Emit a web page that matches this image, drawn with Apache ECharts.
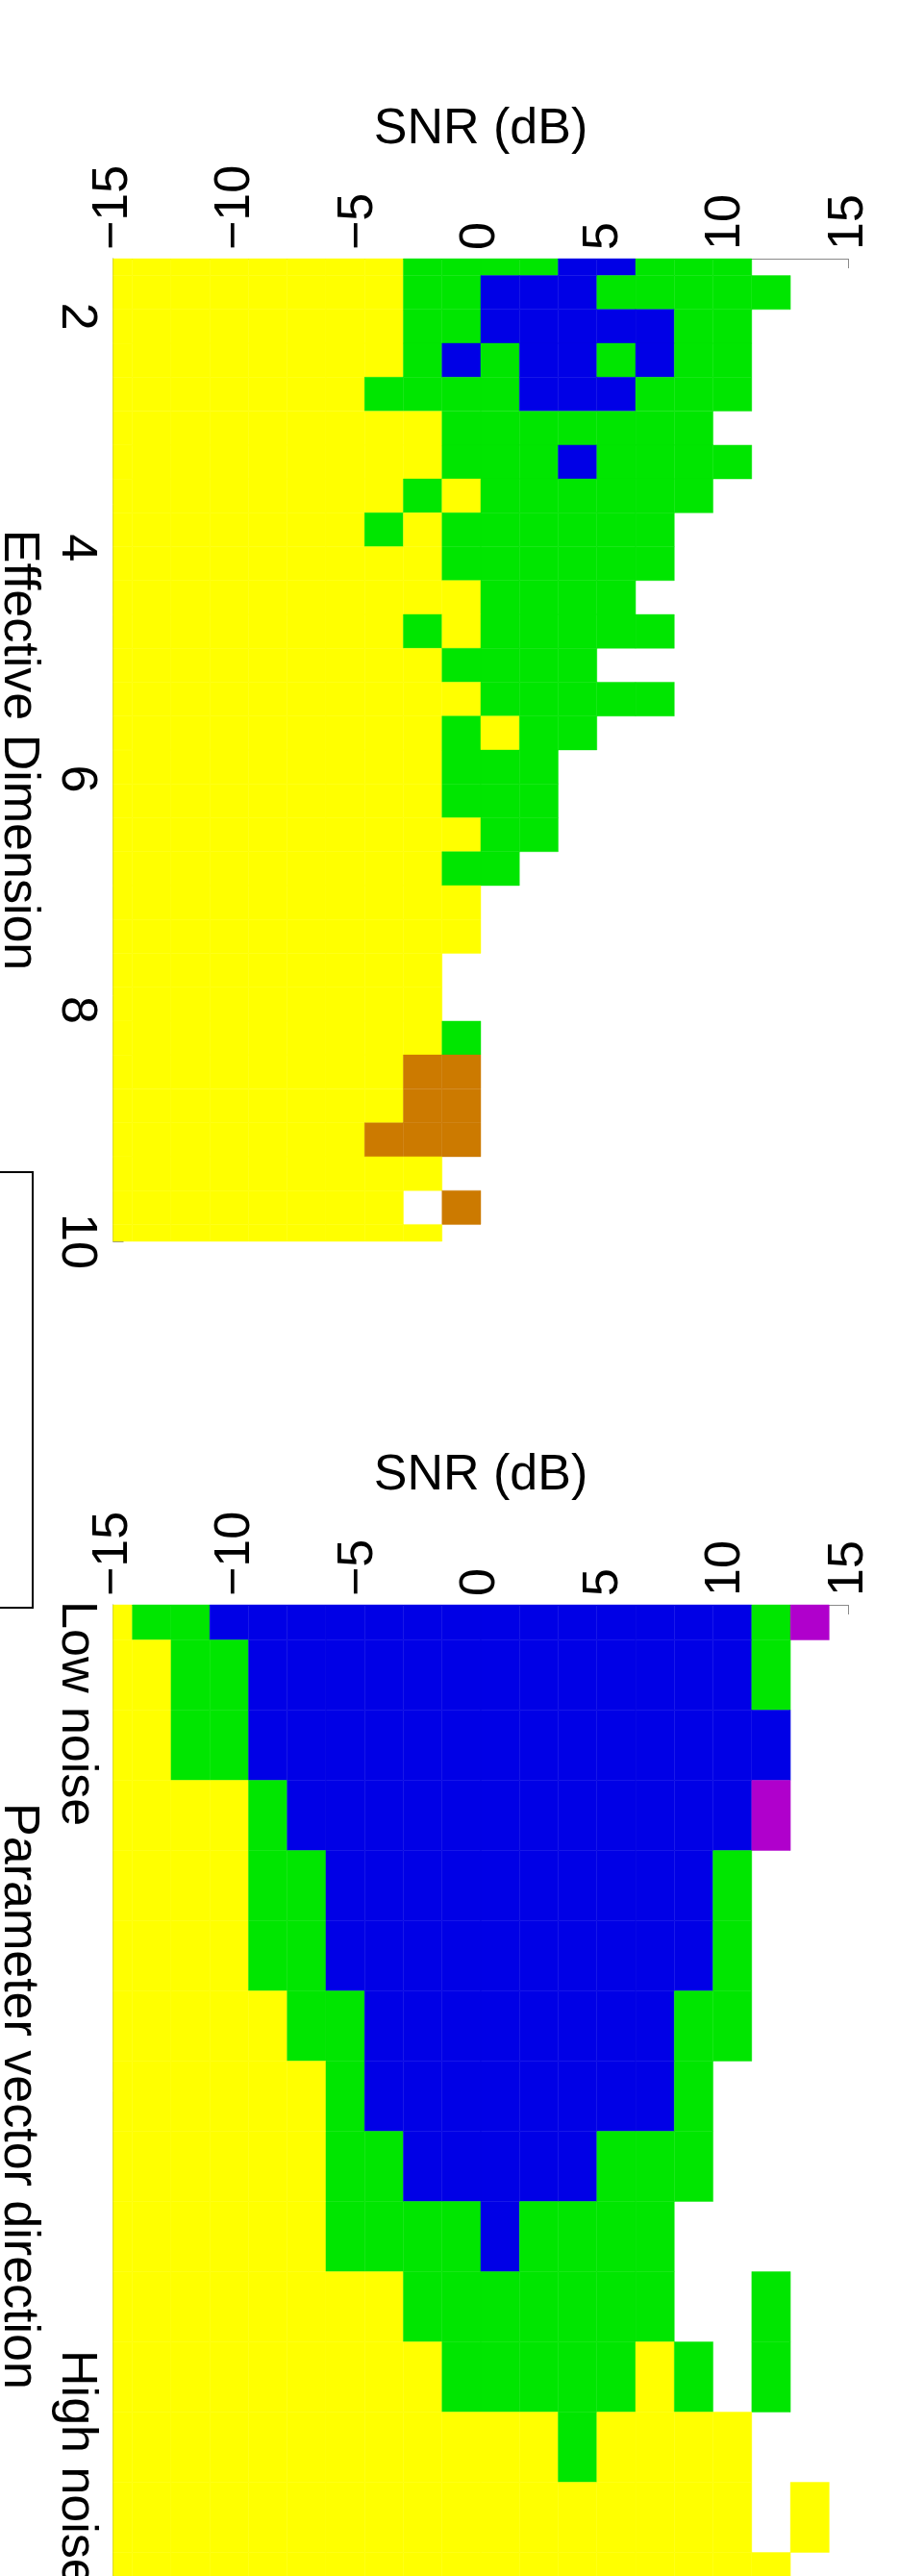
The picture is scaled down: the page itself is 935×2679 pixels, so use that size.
<!DOCTYPE html>
<html>
<head>
    <meta charset="UTF-8">
    <title>SNR vs Effective Dimension / Parameter vector direction</title>
    <script type="text/javascript" src="https://cdn.jsdelivr.net/npm/echarts@6/dist/echarts.min.js"></script>
    <style>
        body { margin: 0; background: #fff; }
    </style>
</head>
<body>
<div id="main" style="width: 935px;height:2679px;"></div>
<script type="text/javascript">
    // SNR grid: 20 values from -15 to 15 dB (columns)
    var snrValues = [-15, -13.421, -11.842, -10.263, -8.684, -7.105, -5.526, -3.947, -2.368, -0.789,
                     0.789, 2.368, 3.947, 5.526, 7.105, 8.684, 10.263, 11.842, 13.421, 15];
    var snrTicks = [-15, -10, -5, 0, 5, 10, 15];

    // effective dimension: 30 rows from 1.5 to 10
    var dimValues = [1.5, 1.793, 2.086, 2.379, 2.672, 2.966, 3.259, 3.552, 3.845, 4.138,
                     4.431, 4.724, 5.017, 5.31, 5.603, 5.897, 6.19, 6.483, 6.776, 7.069,
                     7.362, 7.655, 7.948, 8.241, 8.534, 8.828, 9.121, 9.414, 9.707, 10];
    var dimTicks = [2, 4, 6, 8, 10];

    // parameter vector direction: 15 rows, low noise -> high noise
    var dirValues = [1, 2, 3, 4, 5, 6, 7, 8, 9, 10, 11, 12, 13, 14, 15];
    var dirTicks = [2.55, 13.3];
    var dirTickNames = ['Low noise', 'High noise'];

    // best class per cell (one string per row, one digit per SNR column)
    // 0 = none, 1 = yellow, 2 = green, 3 = blue, 4 = orange, 5 = purple
    var dimClasses = [
        '11111111222233222000',
        '11111111223332222200',
        '11111111223333322000',
        '11111111232332322000',
        '11111112222333222000',
        '11111111122222220000',
        '11111111122232222000',
        '11111111212222220000',
        '11111112122222200000',
        '11111111122222200000',
        '11111111112222000000',
        '11111111212222200000',
        '11111111122220000000',
        '11111111112222200000',
        '11111111121220000000',
        '11111111122200000000',
        '11111111122200000000',
        '11111111112200000000',
        '11111111122000000000',
        '11111111110000000000',
        '11111111110000000000',
        '11111111100000000000',
        '11111111100000000000',
        '11111111120000000000',
        '11111111440000000000',
        '11111111440000000000',
        '11111114440000000000',
        '11111111100000000000',
        '11111111040000000000',
        '11111111100000000000'
    ];
    var dirClasses = [
        '12233333333333333250',
        '11223333333333333200',
        '11223333333333333300',
        '11112333333333333500',
        '11112233333333332000',
        '11112233333333332000',
        '11111223333333322000',
        '11111123333333320000',
        '11111122333332220000',
        '11111122223222200000',
        '11111111222222200200',
        '11111111122222120200',
        '11111111111121111000',
        '11111111111111111010',
        '11111111111111111100'
    ];

    var classColors = ['none', '#ffff00', '#00e600', '#0000e6', '#cc7a00', '#b000cc'];

    var FONT = 'Liberation Sans, Arial, Helvetica, sans-serif';
    var SIZE = 52;
    var AXIS_GRAY = '#8a8a8a';

    function cells(rowValues, rows) {
        var out = [];
        for (var r = 0; r < rows.length; r++) {
            for (var c = 0; c < snrValues.length; c++) {
                var code = +rows[r].charAt(c);
                if (code) out.push([snrValues[c], rowValues[r], code]);
            }
        }
        return out;
    }

    function makeRender(rowStep) {
        var colStep = snrValues[1] - snrValues[0];
        return function (params, api) {
            var p = api.coord([api.value(0), api.value(1)]);
            var s = api.size([colStep, rowStep], [api.value(0), api.value(1)]);
            var rect = echarts.graphic.clipRectByRect({
                x: p[0] - s[0] / 2,
                y: p[1] - s[1] / 2,
                width: s[0],
                height: s[1]
            }, params.coordSys);
            if (!rect) return null;
            var col = classColors[api.value(2)];
            return {
                type: 'rect',
                shape: rect,
                style: {fill: col, stroke: col, lineWidth: 0.4}
            };
        };
    }

    function snrAxis(gridIndex) {
        return {
            type: 'value',
            gridIndex: gridIndex,
            position: 'top',
            min: -15,
            max: 15,
            interval: 5,
            name: 'SNR (dB)',
            nameLocation: 'middle',
            nameGap: 108,
            nameTextStyle: {fontFamily: FONT, fontSize: SIZE, color: '#000'},
            splitLine: {show: false},
            axisLine: {show: true, onZero: false, lineStyle: {color: AXIS_GRAY, width: 1}},
            axisTick: {show: true, inside: true, length: 10, lineStyle: {color: AXIS_GRAY}},
            axisLabel: {
                rotate: -90,
                margin: 9,
                fontFamily: FONT,
                fontSize: SIZE,
                color: '#000',
                formatter: function (v) {
                    return v < 0 ? '\u2212' + (-v) : String(v);
                }
            }
        };
    }

    function sideAxis(gridIndex, min, max, name, ticks, names) {
        return {
            type: 'value',
            gridIndex: gridIndex,
            position: 'left',
            inverse: true,
            min: min,
            max: max,
            name: name,
            nameLocation: 'middle',
            nameRotate: -90,
            nameGap: 60,
            nameTextStyle: {fontFamily: FONT, fontSize: SIZE, color: '#000'},
            splitLine: {show: false},
            axisLine: {show: true, onZero: false, lineStyle: {color: AXIS_GRAY, width: 1}},
            axisTick: {show: !names, inside: true, length: 11, customValues: ticks,
                lineStyle: {color: AXIS_GRAY}},
            axisLabel: {
                rotate: -90,
                margin: 12,
                align: 'center',
                verticalAlign: 'top',
                customValues: ticks,
                fontFamily: FONT,
                fontSize: SIZE,
                color: '#000',
                formatter: function (v) {
                    return names ? names[ticks.indexOf(v)] : String(v);
                }
            }
        };
    }

    var myChart = echarts.init(document.getElementById('main'), null, {renderer: 'canvas'});

    var option = {
        backgroundColor: '#ffffff',
        animation: false,
        grid: [
            {left: 117.5, top: 269, width: 765, height: 1022, outerBoundsMode: 'none'},
            {left: 117.5, top: 1669, width: 765, height: 1022, outerBoundsMode: 'none'}
        ],
        xAxis: [snrAxis(0), snrAxis(1)],
        yAxis: [
            sideAxis(0, 1.5, 10, 'Effective Dimension', dimTicks, null),
            sideAxis(1, 1, 15, 'Parameter vector direction', dirTicks, dirTickNames)
        ],
        graphic: [{
            // legend frame, mostly cut off at the left edge
            type: 'rect',
            left: -60,
            top: 1218,
            shape: {width: 93, height: 453},
            style: {fill: '#fff', stroke: '#000', lineWidth: 2},
            z: 10
        }],
        series: [
            {
                type: 'custom',
                xAxisIndex: 0,
                yAxisIndex: 0,
                renderItem: makeRender(dimValues[1] - dimValues[0]),
                encode: {x: 0, y: 1},
                data: cells(dimValues, dimClasses)
            },
            {
                type: 'custom',
                xAxisIndex: 1,
                yAxisIndex: 1,
                renderItem: makeRender(dirValues[1] - dirValues[0]),
                encode: {x: 0, y: 1},
                data: cells(dirValues, dirClasses)
            }
        ]
    };

    myChart.setOption(option);
</script>
</body>
</html>
